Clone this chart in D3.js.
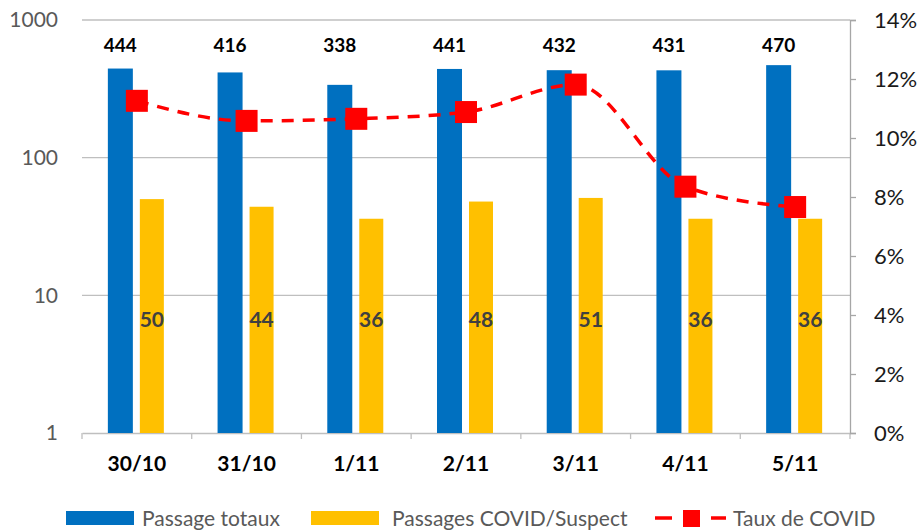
<!DOCTYPE html>
<html><head><meta charset="utf-8">
<script src="https://cdn.jsdelivr.net/npm/d3@7"></script>
<style>body{margin:0;background:#fff}svg{display:block}</style>
</head><body>
<script>
const categories = ["30/10","31/10","1/11","2/11","3/11","4/11","5/11"];
const totals = [444,416,338,441,432,431,470];
const covid = [50,44,36,48,51,36,36];
const taux = [0.1126,0.1058,0.1065,0.1088,0.1181,0.0835,0.0766];
const leftTicks = [1,10,100,1000];
const rightTicks = [0,0.02,0.04,0.06,0.08,0.10,0.12,0.14];

const W=924,H=530;
const m={l:82,r:74,t:20,b:97};
const svg=d3.select("body").append("svg").attr("width",W).attr("height",H);
const font="Lato, 'Open Sans', sans-serif";
const x=d3.scaleBand().domain(categories).range([m.l,W-m.r]);
const y=d3.scaleLog().domain([1,1000]).range([H-m.b,m.t]);
const y2=d3.scaleLinear().domain([0,0.14]).range([H-m.b,m.t]);

// gridlines
svg.append("g").selectAll("line").data(leftTicks.slice(1)).join("line")
 .attr("x1",m.l).attr("x2",W-m.r).attr("y1",d=>y(d)).attr("y2",d=>y(d))
 .attr("stroke","#bfbfbf").attr("stroke-width",1.3);

// left axis
const la=svg.append("g").attr("transform",`translate(${m.l},0)`)
 .call(d3.axisLeft(y).tickValues(leftTicks).tickFormat(d3.format("d")).tickSize(0).tickPadding(24));
la.select(".domain").remove();
la.selectAll("text").attr("font-family",font).attr("font-size",21).attr("fill","#595959");

// bottom axis
const ba=svg.append("g").attr("transform",`translate(0,${H-m.b})`)
 .call(d3.axisBottom(x).tickSize(0).tickPadding(23));
ba.select(".domain").attr("stroke","#bfbfbf").attr("stroke-width",1.3);
ba.selectAll("text").attr("font-family",font).attr("font-size",21).attr("font-weight","bold").attr("fill","#000");
svg.append("g").selectAll("line").data(d3.range(categories.length+1)).join("line")
 .attr("x1",i=>m.l+i*x.step()).attr("x2",i=>m.l+i*x.step())
 .attr("y1",H-m.b).attr("y2",H-m.b+6).attr("stroke","#bfbfbf").attr("stroke-width",1.3);

// right axis
const ra=svg.append("g").attr("transform",`translate(${W-m.r},0)`)
 .call(d3.axisRight(y2).tickValues(rightTicks).tickFormat(d3.format(".0%")).tickSize(6).tickPadding(18));
ra.select(".domain").attr("stroke","#a6a6a6").attr("stroke-width",1.3);
ra.selectAll("line").attr("stroke","#a6a6a6").attr("stroke-width",1.3);
ra.selectAll("text").attr("font-family",font).attr("font-size",22).attr("fill","#1a1a1a");

const bw=25;
// bars
svg.append("g").selectAll("rect").data(totals).join("rect")
 .attr("x",(d,i)=>x(categories[i])+x.bandwidth()/2-29).attr("width",bw)
 .attr("y",d=>y(d)).attr("height",d=>y(1)-y(d)).attr("fill","#0070c0");
svg.append("g").selectAll("rect").data(covid).join("rect")
 .attr("x",(d,i)=>x(categories[i])+x.bandwidth()/2+3).attr("width",bw-1)
 .attr("y",d=>y(d)).attr("height",d=>y(1)-y(d)).attr("fill","#ffc000");

// labels
svg.append("g").selectAll("text").data(totals).join("text")
 .attr("x",(d,i)=>x(categories[i])+x.bandwidth()/2-16.5).attr("y",y(590)).attr("text-anchor","middle")
 .attr("font-family",font).attr("font-size",19).attr("font-weight","bold").attr("fill","#000").text(d=>d);
svg.append("g").selectAll("text").data(covid).join("text")
 .attr("x",(d,i)=>x(categories[i])+x.bandwidth()/2+15).attr("y",y(5.9)).attr("text-anchor","middle")
 .attr("font-family",font).attr("font-size",21).attr("font-weight","bold").attr("fill","#404040").text(d=>d);

// line
const cx=(d,i)=>x(categories[i])+x.bandwidth()/2;
svg.append("path").datum(taux).attr("fill","none").attr("stroke","#ff0000").attr("stroke-width",3.5)
 .attr("stroke-dasharray","12,9")
 .attr("d",d3.line().x(cx).y(d=>y2(d)).curve(d3.curveMonotoneX));
svg.append("g").selectAll("rect").data(taux).join("rect")
 .attr("x",(d,i)=>cx(d,i)-11).attr("y",d=>y2(d)-11).attr("width",22).attr("height",22).attr("fill","#ff0000");

// legend
const lg=svg.append("g").attr("font-family",font).attr("font-size",21).attr("fill","#595959");
lg.append("rect").attr("x",66).attr("y",511).attr("width",68).attr("height",14).attr("fill","#0070c0");
lg.append("text").attr("x",142).attr("y",526).text("Passage totaux");
lg.append("rect").attr("x",311).attr("y",511).attr("width",68).attr("height",14).attr("fill","#ffc000");
lg.append("text").attr("x",392).attr("y",526).text("Passages COVID/Suspect");
lg.append("line").attr("x1",655).attr("x2",726).attr("y1",518).attr("y2",518).attr("stroke","#ff0000").attr("stroke-width",3.5).attr("stroke-dasharray","17,11");
lg.append("rect").attr("x",683).attr("y",510).attr("width",17).attr("height",17).attr("fill","#ff0000");
lg.append("text").attr("x",733).attr("y",526).text("Taux de COVID");
</script>
</body></html>
